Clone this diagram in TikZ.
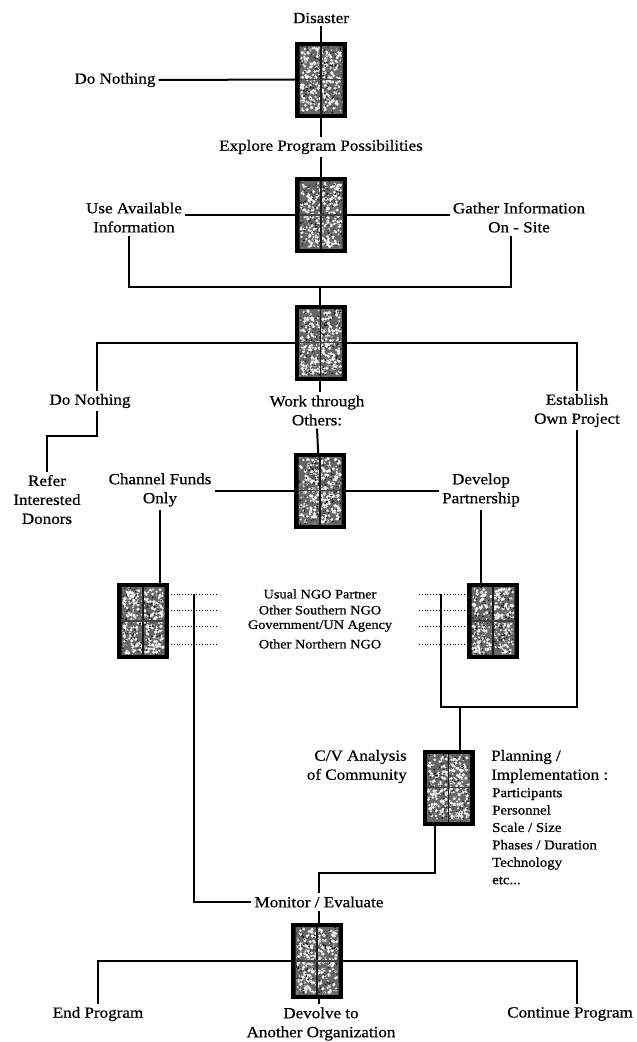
\documentclass[tikz,border=0pt]{standalone}
\usepackage{fontspec}
\setmainfont[FakeStretch=1.1, FakeBold=0.6]{Liberation Serif}
\usetikzlibrary{calc}

\tikzset{
  x=1pt, y=1pt,
  lbl/.style={font={\fontsize{15.5}{19}\selectfont}, align=center, inner sep=3pt},
  ngo/.style={font={\fontsize{13}{16}\selectfont}, inner sep=1pt},
  small/.style={font={\fontsize{13.5}{17.4}\selectfont}, align=left, inner sep=0pt},
  conn/.style={line width=2pt},
  dots/.style={line width=0.8pt, dotted},
  gbox/.style={rectangle, fill=black, draw=none, minimum width=52pt, minimum height=76pt, inner sep=0pt},
}

% a black decision box with a grainy, speckled interior
\newcommand\grainbox[4]{%
  \node[gbox] (#1) at (#2,#3) {};
  \begin{scope}[shift={(#1.center)}]
    \clip (-21.5,-33.5) rectangle (21.5,33.5);
    \fill[black!60] (-23,-35) rectangle (23,35);
    \pgfmathsetseed{#4}
    \foreach \i in {1,...,260}{\fill[black!6] ({rand*20},{rand*32}) circle ({0.8+1.1*rnd});}
    \foreach \i in {1,...,60}{\fill[black!40] ({rand*22},{rand*34}) circle ({0.5+0.8*rnd});}
    \foreach \i in {1,...,150}{\fill[black!92] ({rand*22},{rand*34}) circle ({0.35+0.7*rnd});}
    \draw[black!90, line width=1.8pt] (0,-35) -- (0,35);
    \draw[black!75, line width=1.2pt] (-23,0) -- (23,0);
  \end{scope}}

\begin{document}
\begin{tikzpicture}
\useasboundingbox (0,0) rectangle (637,-1042);

% ---- labels ----
\node[lbl] (disaster) at (321,-18) {Disaster};
\node[lbl] (dn1) at (115,-80) {Do Nothing};
\node[lbl] (explore) at (321,-147) {Explore Program Possibilities};
\node[lbl] (useavail) at (134,-217.5) {Use Available\\Information};
\node[lbl] (gather) at (519,-217.5) {Gather Information\\On - Site};
\node[lbl] (dn2) at (90,-401) {Do Nothing};
\node[lbl] (work) at (317,-410.5) {Work through\\Others:};
\node[lbl] (est) at (577,-410.5) {Establish\\Own Project};
\node[lbl] (refer) at (47,-499.5) {Refer\\Interested\\Donors};
\node[lbl] (channel) at (160,-490) {Channel Funds\\Only};
\node[lbl] (develop) at (481,-490) {Develop\\Partnership};
\node[ngo] (ngo1) at (320,-594) {Usual NGO Partner};
\node[ngo] (ngo2) at (320,-610) {Other Southern NGO};
\node[ngo] (ngo3) at (320,-626) {Government/UN Agency};
\node[ngo] (ngo4) at (320,-644) {Other Northern NGO};
\node[lbl, align=right, anchor=east] (cv) at (410,-766.5) {C/V Analysis\\of Community};
\node[lbl, align=left, anchor=west] (plan) at (488,-766.5) {Planning /\\Implementation :};
\node[small, anchor=north west] (items) at (492,-788) {Participants\\Personnel\\Scale / Size\\Phases / Duration\\Technology\\etc...};
\node[lbl] (monitor) at (319,-902) {Monitor / Evaluate};
\node[lbl] (endp) at (98,-1014) {End Program};
\node[lbl] (devolve) at (321,-1024) {Devolve to\\Another Organization};
\node[lbl] (cont) at (570,-1014) {Continue Program};

% ---- junction points ----
\coordinate (j1) at (320,-287);
\coordinate (k1) at (97,-436);
\coordinate (dl) at (217,0);
\coordinate (dr) at (419,0);
\coordinate (vl) at (194,-594);
\coordinate (vr) at (441,-594);
\coordinate (m1) at (577,-707);
\coordinate (m2) at (460,-707);
\coordinate (m3) at (435,-873);

% ---- box centres (boxes are drawn last, on top) ----
\path (321,-79.5) coordinate (c1) (321,-215) coordinate (c2) (320.5,-342.5) coordinate (c3)
      (320,-490.5) coordinate (c4) (143,-621) coordinate (c5) (493,-621) coordinate (c6)
      (448.5,-787.5) coordinate (c7) (317,-961) coordinate (c8);

% ---- connectors ----
\draw[conn] (disaster.south) -- (explore.north);
\draw[conn] (dn1.east) -- (c1 -| 295,0);
\draw[conn] (explore.south) -- ++(0,-93);
\draw[conn] (useavail.east |- c2) -- (gather.west |- c2);
\draw[conn] ([xshift=-5pt]useavail.south) |- (j1) -| ([xshift=-8pt]gather.south);
\draw[conn] (j1) -- (j1 |- work.north);
\draw[conn] ([xshift=7pt]dn2.north) |- (c3) -| (est.north);
\draw[conn] (dn2.south -| k1) -- (k1) -| (refer.north);
\draw[conn] (work.south) -- (c4);
\draw[conn] (channel.east |- c4) -- (develop.west |- c4);
\draw[conn] (channel.south) -- (channel.south |- c5);
\draw[conn] (develop.south) -- (develop.south |- c6);
\foreach \n in {ngo1,ngo2,ngo3,ngo4}{
  \draw[dots] (c5 |- \n) -- (dl |- \n);
  \draw[dots] (dr |- \n) -- (c6 |- \n);
}
\draw[conn] (vl) |- (monitor.west);
\draw[conn] (est.south) -- (m1) -- (vr |- m1) -- (vr);
\draw[conn] (m2) -- (m2 |- c7);
\draw[conn] (m3 |- c7) -- (m3) -| (monitor.north);
\draw[conn] (monitor.south) -- (monitor.south |- devolve.north);
\draw[conn] (endp.north) |- (c8) -| ([xshift=7pt]cont.north);

% ---- decision boxes ----
\grainbox{b1}{321}{-79.5}{11}
\grainbox{b2}{321}{-215}{23}
\grainbox{b3}{320.5}{-342.5}{37}
\grainbox{b4}{320}{-490.5}{41}
\grainbox{b5}{143}{-621}{53}
\grainbox{b6}{493}{-621}{67}
\grainbox{b7}{448.5}{-787.5}{71}
\grainbox{b8}{317}{-961}{89}
\end{tikzpicture}
\end{document}
